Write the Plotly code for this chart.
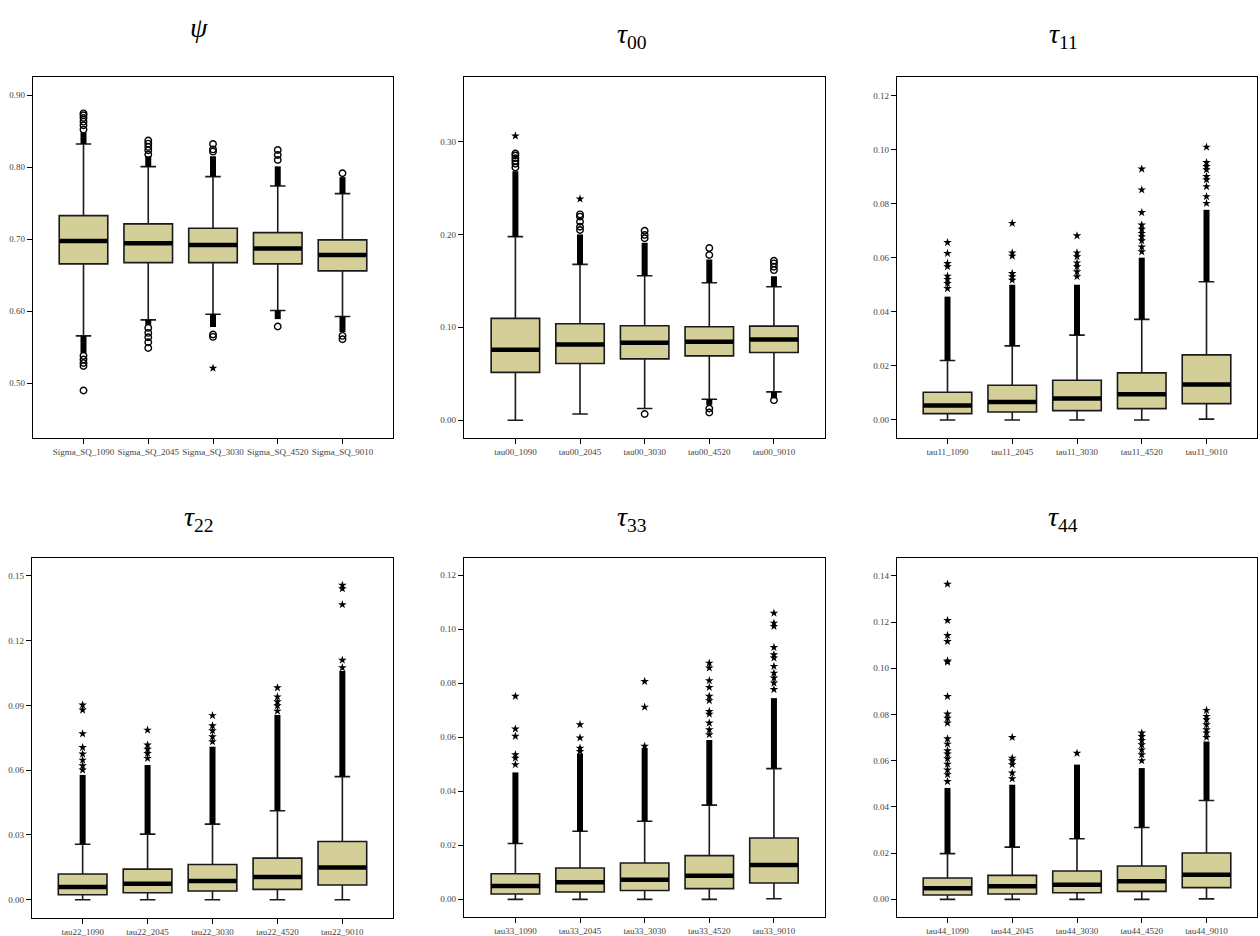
import plotly.graph_objects as go

# ---------------- data ----------------
psi_labels = ["Sigma_SQ_1090", "Sigma_SQ_2045", "Sigma_SQ_3030", "Sigma_SQ_4520", "Sigma_SQ_9010"]
psi_q1 = [0.6656, 0.6674, 0.6674, 0.6656, 0.6559]
psi_med = [0.6975, 0.6943, 0.6920, 0.6869, 0.6781]
psi_q3 = [0.7326, 0.7211, 0.7151, 0.7090, 0.6989]
psi_lo = [0.5657, 0.5880, 0.5958, 0.6009, 0.5926]
psi_hi = [0.8320, 0.8006, 0.7867, 0.7738, 0.7632]
psi_dense_hi = [0.848, 0.815, 0.815, 0.801, 0.786]
psi_dense_lo = [0.542, 0.581, 0.578, 0.589, 0.571]
psi_circles = [
    [0.852, 0.858, 0.863, 0.868, 0.872, 0.8745, 0.538, 0.533, 0.528, 0.524, 0.4899],
    [0.8174, 0.8234, 0.8280, 0.8326, 0.8368, 0.5768, 0.5699, 0.5639, 0.5569, 0.549],
    [0.8214, 0.8246, 0.832, 0.5676, 0.5643],
    [0.8098, 0.8168, 0.8237, 0.5787],
    [0.7914, 0.5657, 0.5611],
]
psi_stars = [[], [], [0.5209], [], []]

tau00_labels = ["tau00_1090", "tau00_2045", "tau00_3030", "tau00_4520", "tau00_9010"]
tau00_q1 = [0.0515, 0.0611, 0.0661, 0.0693, 0.0729]
tau00_med = [0.0758, 0.0815, 0.0833, 0.0844, 0.0869]
tau00_q3 = [0.1096, 0.1038, 0.1017, 0.1006, 0.1013]
tau00_lo = [0.0000, 0.0068, 0.0126, 0.0226, 0.0305]
tau00_hi = [0.1976, 0.1677, 0.1555, 0.1480, 0.1437]
tau00_dense_hi = [0.268, 0.200, 0.191, 0.173, 0.155]
tau00_dense_lo = [None, None, None, 0.0165, 0.0235]
tau00_circles = [
    [0.272, 0.276, 0.279, 0.282, 0.285, 0.287],
    [0.2047, 0.2083, 0.2137, 0.2191, 0.2216],
    [0.1958, 0.1994, 0.204, 0.0068],
    [0.1778, 0.1853, 0.0126, 0.0083],
    [0.1616, 0.1652, 0.1688, 0.1717, 0.0216],
]
tau00_stars = [[0.306], [0.2382], [], [], []]

tau11_labels = ["tau11_1090", "tau11_2045", "tau11_3030", "tau11_4520", "tau11_9010"]
tau11_q1 = [0.00235, 0.00296, 0.00346, 0.0042, 0.00605]
tau11_med = [0.0053, 0.00667, 0.0079, 0.0095, 0.0131]
tau11_q3 = [0.01025, 0.01284, 0.0147, 0.0174, 0.02407]
tau11_lo = [0.0, 0.0, 0.0, 0.0, 0.0003]
tau11_hi = [0.0220, 0.0274, 0.03136, 0.0372, 0.0511]
tau11_dense_hi = [0.0456, 0.0500, 0.0500, 0.0600, 0.0777]
tau11_dense_lo = [None] * 5
tau11_circles = [[], [], [], [], []]
tau11_stars = [
    [0.0486, 0.0505, 0.052, 0.0532, 0.0567, 0.0579, 0.0616, 0.0656],
    [0.0517, 0.053, 0.0542, 0.0606, 0.0618, 0.0727],
    [0.053, 0.0548, 0.0567, 0.0581, 0.0604, 0.0618, 0.0681],
    [0.0622, 0.064, 0.0663, 0.0678, 0.069, 0.0705, 0.0721, 0.0767, 0.0851, 0.0928],
    [0.0801, 0.0826, 0.0863, 0.0888, 0.090, 0.0925, 0.0937, 0.0952, 0.1009],
]

tau22_labels = ["tau22_1090", "tau22_2045", "tau22_3030", "tau22_4520", "tau22_9010"]
tau22_q1 = [0.0023, 0.00324, 0.0040, 0.00478, 0.00678]
tau22_med = [0.00586, 0.0074, 0.00863, 0.01048, 0.01495]
tau22_q3 = [0.01187, 0.01418, 0.01634, 0.01927, 0.02698]
tau22_lo = [0.0, 0.0, 0.0, 0.0, 0.0]
tau22_hi = [0.0257, 0.0304, 0.0350, 0.0412, 0.0570]
tau22_dense_hi = [0.0578, 0.0624, 0.0709, 0.0856, 0.1060]
tau22_dense_lo = [None] * 5
tau22_circles = [[], [], [], [], []]
tau22_stars = [
    [0.0601, 0.0621, 0.0647, 0.0675, 0.0705, 0.0769, 0.0879, 0.0902],
    [0.0655, 0.0678, 0.0697, 0.0717, 0.0786],
    [0.0732, 0.0755, 0.0783, 0.0806, 0.0853],
    [0.0874, 0.0899, 0.0917, 0.094, 0.0982],
    [0.1075, 0.111, 0.1367, 0.1441, 0.1457],
]

tau33_labels = ["tau33_1090", "tau33_2045", "tau33_3030", "tau33_4520", "tau33_9010"]
tau33_q1 = [0.00198, 0.0027, 0.0033, 0.00395, 0.00605]
tau33_med = [0.00494, 0.0063, 0.00728, 0.00877, 0.0127]
tau33_q3 = [0.0095, 0.0116, 0.01346, 0.01617, 0.0227]
tau33_lo = [0.0, 0.0, 0.0, 0.0, 0.0002]
tau33_hi = [0.0207, 0.0252, 0.0289, 0.0349, 0.0484]
tau33_dense_hi = [0.0470, 0.0540, 0.0560, 0.0590, 0.0745]
tau33_dense_lo = [None] * 5
tau33_circles = [[], [], [], [], []]
tau33_stars = [
    [0.0499, 0.0523, 0.0536, 0.0604, 0.0631, 0.0752],
    [0.0548, 0.0560, 0.0598, 0.0647],
    [0.0567, 0.0712, 0.0807],
    [0.061, 0.0628, 0.0653, 0.0686, 0.0696, 0.0736, 0.0752, 0.0785, 0.081, 0.0857, 0.0875],
    [0.0777, 0.0801, 0.082, 0.0838, 0.0863, 0.0894, 0.0906, 0.0933, 0.1011, 0.1023, 0.106],
]

tau44_labels = ["tau44_1090", "tau44_2045", "tau44_3030", "tau44_4520", "tau44_9010"]
tau44_q1 = [0.00187, 0.0023, 0.00288, 0.00346, 0.00505]
tau44_med = [0.00476, 0.00562, 0.00634, 0.00779, 0.01067]
tau44_q3 = [0.00923, 0.01038, 0.01226, 0.01442, 0.02004]
tau44_lo = [0.0, 0.0, 0.0, 0.0, 0.0002]
tau44_hi = [0.0198, 0.0226, 0.0262, 0.0311, 0.0428]
tau44_dense_hi = [0.0482, 0.0496, 0.0583, 0.0568, 0.0683]
tau44_dense_lo = [None] * 5
tau44_circles = [[], [], [], [], []]
tau44_stars = [
    [0.051, 0.054, 0.056, 0.0585, 0.0609, 0.0629, 0.0643, 0.0672, 0.0695, 0.0763, 0.0784,
     0.0802, 0.0878, 0.1027, 0.1032, 0.1116, 0.1142, 0.1207, 0.1364],
    [0.0522, 0.0547, 0.0583, 0.060, 0.0611, 0.0701],
    [0.0632],
    [0.060, 0.0626, 0.0647, 0.0669, 0.0688, 0.0705, 0.072],
    [0.0701, 0.072, 0.0734, 0.0756, 0.0777, 0.0792, 0.0818],
]

panel_titles = ["<i>ψ</i>", "<i>τ</i><sub>00</sub>", "<i>τ</i><sub>11</sub>",
                "<i>τ</i><sub>22</sub>", "<i>τ</i><sub>33</sub>", "<i>τ</i><sub>44</sub>"]
y_ticks = [
    [0.50, 0.60, 0.70, 0.80, 0.90],
    [0.00, 0.10, 0.20, 0.30],
    [0.00, 0.02, 0.04, 0.06, 0.08, 0.10, 0.12],
    [0.00, 0.03, 0.06, 0.09, 0.12, 0.15],
    [0.00, 0.02, 0.04, 0.06, 0.08, 0.10, 0.12],
    [0.00, 0.02, 0.04, 0.06, 0.08, 0.10, 0.12, 0.14],
]

panels = [
    (psi_labels, psi_q1, psi_med, psi_q3, psi_lo, psi_hi, psi_dense_hi, psi_dense_lo, psi_circles, psi_stars),
    (tau00_labels, tau00_q1, tau00_med, tau00_q3, tau00_lo, tau00_hi, tau00_dense_hi, tau00_dense_lo, tau00_circles, tau00_stars),
    (tau11_labels, tau11_q1, tau11_med, tau11_q3, tau11_lo, tau11_hi, tau11_dense_hi, tau11_dense_lo, tau11_circles, tau11_stars),
    (tau22_labels, tau22_q1, tau22_med, tau22_q3, tau22_lo, tau22_hi, tau22_dense_hi, tau22_dense_lo, tau22_circles, tau22_stars),
    (tau33_labels, tau33_q1, tau33_med, tau33_q3, tau33_lo, tau33_hi, tau33_dense_hi, tau33_dense_lo, tau33_circles, tau33_stars),
    (tau44_labels, tau44_q1, tau44_med, tau44_q3, tau44_lo, tau44_hi, tau44_dense_hi, tau44_dense_lo, tau44_circles, tau44_stars),
]

# ---------------- layout (pixel geometry) ----------------
W, H = 1260, 936
frames = [  # left, right, top, bottom in px
    (33, 393, 77, 438),
    (464, 825, 77, 438),
    (897, 1257, 77, 438),
    (32, 393, 558, 918),
    (464, 825, 558, 917),
    (897, 1257, 558, 917),
]
y_ranges = [
    [0.424, 0.925],
    [-0.0191, 0.3694],
    [-0.00667, 0.1268],
    [-0.00848, 0.1583],
    [-0.00654, 0.1264],
    [-0.00764, 0.1477],
]
x_ranges = [[-0.78, 4.78], [-0.795, 4.79], [-0.78, 4.78], [-0.78, 4.78], [-0.795, 4.79], [-0.78, 4.78]]
title_pos = [(199, 27), (632, 36), (1063, 36), (199, 518), (632, 518), (1063, 518)]

FILL = "#D4CF98"
SERIF = "Liberation Serif, Times New Roman, serif"

fig = go.Figure()

for i, (labels, q1, med, q3, lo, hi, dhi, dlo, circ, stars) in enumerate(panels):
    n = "" if i == 0 else str(i + 1)
    xa, ya = "x" + n, "y" + n

    # dense outlier runs (drawn under the boxes)
    bx, by = [], []
    for j, lab in enumerate(labels):
        if dhi[j] is not None:
            bx += [lab, lab, None]
            by += [hi[j], dhi[j], None]
        if dlo[j] is not None:
            bx += [lab, lab, None]
            by += [lo[j], dlo[j], None]
    fig.add_trace(go.Scatter(x=bx, y=by, mode="lines", xaxis=xa, yaxis=ya,
                             line=dict(color="black", width=6), hoverinfo="skip"))

    fig.add_trace(go.Box(
        x=labels, q1=q1, median=med, q3=q3, lowerfence=lo, upperfence=hi,
        xaxis=xa, yaxis=ya, fillcolor=FILL, boxpoints=False,
        line=dict(color="#1a1a1a", width=1.6), whiskerwidth=0.32, width=0.75,
    ))
    # thick median bars
    fig.add_trace(go.Scatter(
        x=labels, y=med, mode="markers", xaxis=xa, yaxis=ya,
        marker=dict(symbol="line-ew", size=34.5, line=dict(color="black", width=4.5)),
        hoverinfo="skip"))

    cx, cy, sx, sy = [], [], [], []
    for j, lab in enumerate(labels):
        cx += [lab] * len(circ[j]); cy += circ[j]
        sx += [lab] * len(stars[j]); sy += stars[j]
    if cx:
        fig.add_trace(go.Scatter(x=cx, y=cy, mode="markers", xaxis=xa, yaxis=ya,
                                 marker=dict(symbol="circle-open", size=6.5, color="black",
                                             line=dict(width=1.4, color="black"))))
    if sx:
        fig.add_trace(go.Scatter(x=sx, y=sy, mode="markers", xaxis=xa, yaxis=ya,
                                 marker=dict(symbol="star", size=6.5, color="black",
                                             line=dict(width=0))))

    l, r, t, b = frames[i]
    axis_common = dict(showline=True, mirror=True, linecolor="black", linewidth=1.3,
                       showgrid=False, zeroline=False, ticks="outside", ticklen=5,
                       tickcolor="black", tickwidth=1,
                       tickfont=dict(family=SERIF, size=9, color="#444"))
    fig.layout["xaxis" + n] = dict(domain=[l / W, r / W], anchor=ya, type="category",
                                   range=x_ranges[i], categoryorder="array",
                                   categoryarray=labels, **axis_common)
    fig.layout["yaxis" + n] = dict(domain=[1 - b / H, 1 - t / H], anchor=xa,
                                   range=y_ranges[i], tickvals=y_ticks[i], tickformat=".2f",
                                   **axis_common)

    tx, ty = title_pos[i]
    fig.add_annotation(text=panel_titles[i], x=tx / W, y=1 - ty / H, xref="paper", yref="paper",
                       showarrow=False, xanchor="center", yanchor="middle",
                       font=dict(family=SERIF, size=28, color="black"))

fig.update_layout(width=W, height=H, margin=dict(l=0, r=0, t=0, b=0),
                  paper_bgcolor="white", plot_bgcolor="white", showlegend=False)

fig.write_html("out.html", config={"displayModeBar": False},
               post_script="document.body.style.margin='0';document.body.style.overflow='hidden';")
